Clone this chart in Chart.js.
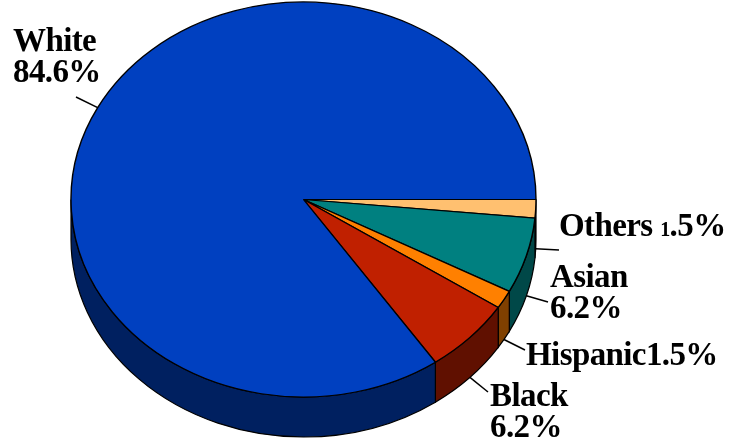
<!DOCTYPE html>
<html>
<head>
<meta charset="utf-8">
<script src="https://cdn.jsdelivr.net/npm/chart.js@4.4.0/dist/chart.umd.min.js"></script>
<style>
  html, body { margin: 0; padding: 0; background: #fff; }
  #wrap { width: 730px; height: 439px; }
</style>
</head>
<body>
<div id="wrap"><canvas id="pie" width="730" height="439"></canvas></div>
<script>
// slices run clockwise from 3 o'clock
const categories = ["Others", "Asian", "Hispanic", "Black", "White"];
const shares = [1.5, 6.2, 1.5, 6.2, 84.6];
const topColors = ["#FFC070", "#008080", "#FF8000", "#C02000", "#0040C0"];
const sideColors = ["#806030", "#004848", "#804000", "#601000", "#002060"];

const depth = 40;               // thickness of the disc
const squash = 232.5 / 197.5;   // horizontal stretch of the top face
const labelFont = 'bold 33px "Liberation Serif", "Times New Roman", serif';

// where each label sits: text x, first baseline, end of the leader line
const labelLayout = {
  Others:   { x: 559, y: 236, split: false, smallFirst: true, lead: [559, 250] },
  Asian:    { x: 550, y: 287, split: true, lead: [548, 302] },
  Hispanic: { x: 526, y: 365, split: false, lead: [525, 350] },
  Black:    { x: 490, y: 406, split: true, lead: [488, 392] },
  White:    { x: 13,  y: 51,  split: true, lead: [76, 97] }
};

function drawLabels(chart) {
  const ctx = chart.ctx;
  const arcs = chart.getDatasetMeta(0).data;
  const { x: cx, y: cy, outerRadius: r } = arcs[0];
  const rx = r * squash, ry = r;
  ctx.save();
  ctx.strokeStyle = "#000";
  ctx.fillStyle = "#000";
  ctx.lineWidth = 1.5;
  ctx.textBaseline = "alphabetic";
  ctx.textAlign = "left";
  ctx.letterSpacing = "-0.6px";
  arcs.forEach((arc, i) => {
    const name = categories[i];
    const lay = labelLayout[name];
    const mid = (arc.startAngle + arc.endAngle) / 2;
    const px = cx + rx * Math.cos(mid);
    let py = cy + ry * Math.sin(mid);
    if (Math.sin(mid) > 0) py += depth;   // front slices: point at the side wall
    ctx.beginPath();
    ctx.moveTo(px, py);
    ctx.lineTo(lay.lead[0], lay.lead[1]);
    ctx.stroke();

    const value = shares[i].toFixed(1) + "%";
    ctx.font = labelFont;
    if (lay.split) {
      ctx.fillText(name, lay.x, lay.y);
      ctx.fillText(value, lay.x, lay.y + 31);
    } else if (lay.smallFirst) {
      const head = name + " ";
      ctx.fillText(head, lay.x, lay.y);
      let x = lay.x + ctx.measureText(head).width;
      ctx.font = 'bold 20px "Liberation Serif", serif';
      ctx.fillText(value[0], x, lay.y);
      x += ctx.measureText(value[0]).width;
      ctx.font = labelFont;
      ctx.fillText(value.slice(1), x, lay.y);
    } else {
      ctx.fillText(name + value, lay.x, lay.y);
    }
  });
  ctx.restore();
}

const pie3d = {
  id: "pie3d",
  beforeDatasetsDraw(chart) {
    const ctx = chart.ctx;
    const arcs = chart.getDatasetMeta(0).data;
    const { x: cx, y: cy, outerRadius: r } = arcs[0];
    const rx = r * squash, ry = r;
    // side wall: only the front half of the rim is visible
    arcs.forEach((arc, i) => {
      const a = Math.max(arc.startAngle, 0);
      const b = Math.min(arc.endAngle, Math.PI);
      if (b <= a) return;
      ctx.beginPath();
      ctx.ellipse(cx, cy, rx, ry, 0, a, b, false);
      ctx.ellipse(cx, cy + depth, rx, ry, 0, b, a, true);
      ctx.closePath();
      ctx.fillStyle = sideColors[i];
      ctx.fill();
      ctx.strokeStyle = "#000";
      ctx.lineWidth = 1.2;
      ctx.stroke();
    });
    // stretch the round pie into the top ellipse
    ctx.save();
    ctx.translate(cx, 0);
    ctx.scale(squash, 1);
    ctx.translate(-cx, 0);
  },
  afterDatasetsDraw(chart) {
    chart.ctx.restore();
    drawLabels(chart);
  }
};

new Chart(document.getElementById("pie"), {
  type: "pie",
  data: {
    labels: categories,
    datasets: [{
      data: shares,
      backgroundColor: topColors,
      borderColor: "#000",
      borderWidth: 1.2,
      clip: false
    }]
  },
  options: {
    responsive: false,
    animation: false,
    rotation: 90,
    radius: 197.5,
    layout: { padding: { left: 106, right: 229, top: 2, bottom: 42 } },
    plugins: {
      legend: { display: false },
      tooltip: { enabled: false }
    }
  },
  plugins: [pie3d]
});
</script>
</body>
</html>
